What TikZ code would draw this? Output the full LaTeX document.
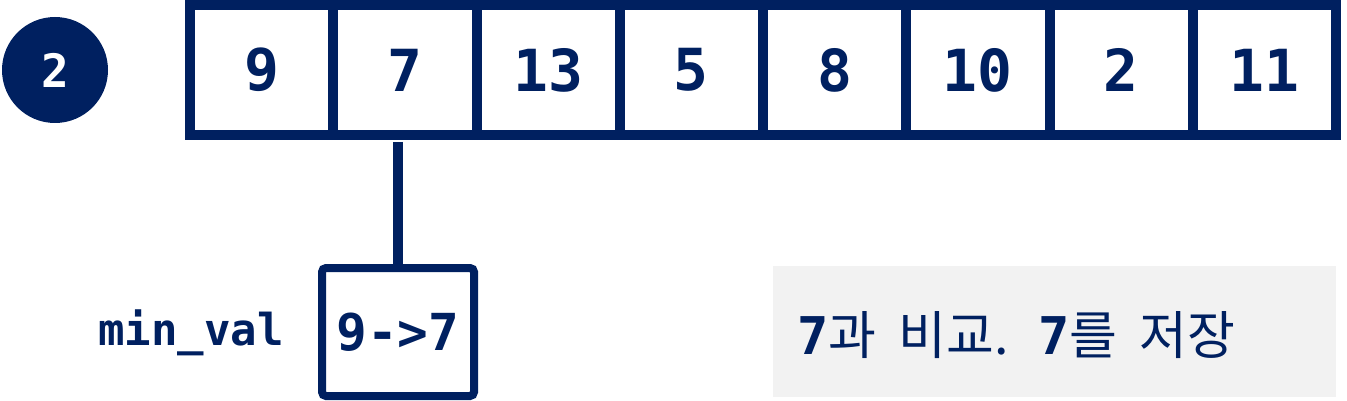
\documentclass[tikz,border=0pt]{standalone}
\usepackage{fontspec}
\setmainfont{DejaVu Sans}
\newfontfamily\monob{DejaVu Sans Mono}[BoldFont=* Bold]
\newfontfamily\kr{Noto Sans CJK KR}
\definecolor{navy}{HTML}{002060}
\definecolor{lightgray}{HTML}{F2F2F2}
\tikzset{
  cellbox/.style={draw=navy, line width=10pt, minimum width=143.25pt, minimum height=130pt,
    inner sep=0pt, outer sep=0pt, text=navy, font=\monob\bfseries\fontsize{58}{58}\selectfont},
  valbox/.style={draw=navy, line width=8pt, rounded corners=4pt, minimum width=152pt, minimum height=128pt,
    inner sep=0pt, outer sep=0pt, text=navy, font=\monob\bfseries\fontsize{51}{51}\selectfont},
  stepcircle/.style={circle, fill=navy, minimum size=106pt, inner sep=0pt, text=white,
    font=\monob\bfseries\fontsize{46}{46}\selectfont},
  notebox/.style={fill=lightgray, minimum width=563pt, minimum height=131pt, inner sep=0pt, outer sep=0pt},
  link/.style={draw=navy, line width=10pt}
}
\begin{document}
\begin{tikzpicture}[x=1pt, y=-1pt]
\useasboundingbox (0,0) rectangle (1347,401);
\node[stepcircle] (num) at (55,70) {2};
\foreach \v [count=\i] in {9,7,13,5,8,10,2,11} {
  \node[cellbox] (c\i) at ({190+143.25*(\i-0.5)},70) {\v};
}
\node[valbox] (mv) at (398,332) {9->7};
\node[anchor=base east, text=navy, font=\monob\bfseries\fontsize{44}{44}\selectfont, inner sep=0pt] (lbl) at (284,345) {min\_val};
\node[notebox] (note) at (1054.5,331.5) {};
\node[anchor=base west, text=navy, inner sep=0pt, font=\kr\fontsize{52}{52}\selectfont] (txt) at (797,354)
  {{\monob\bfseries 7}과\hspace{22pt}비교.\hspace{30pt}{\monob\bfseries 7}를\hspace{22pt}저장};
\draw[link] ([yshift=-7pt]mv.north |- c2.south) -- (mv.north);
\end{tikzpicture}
\end{document}
